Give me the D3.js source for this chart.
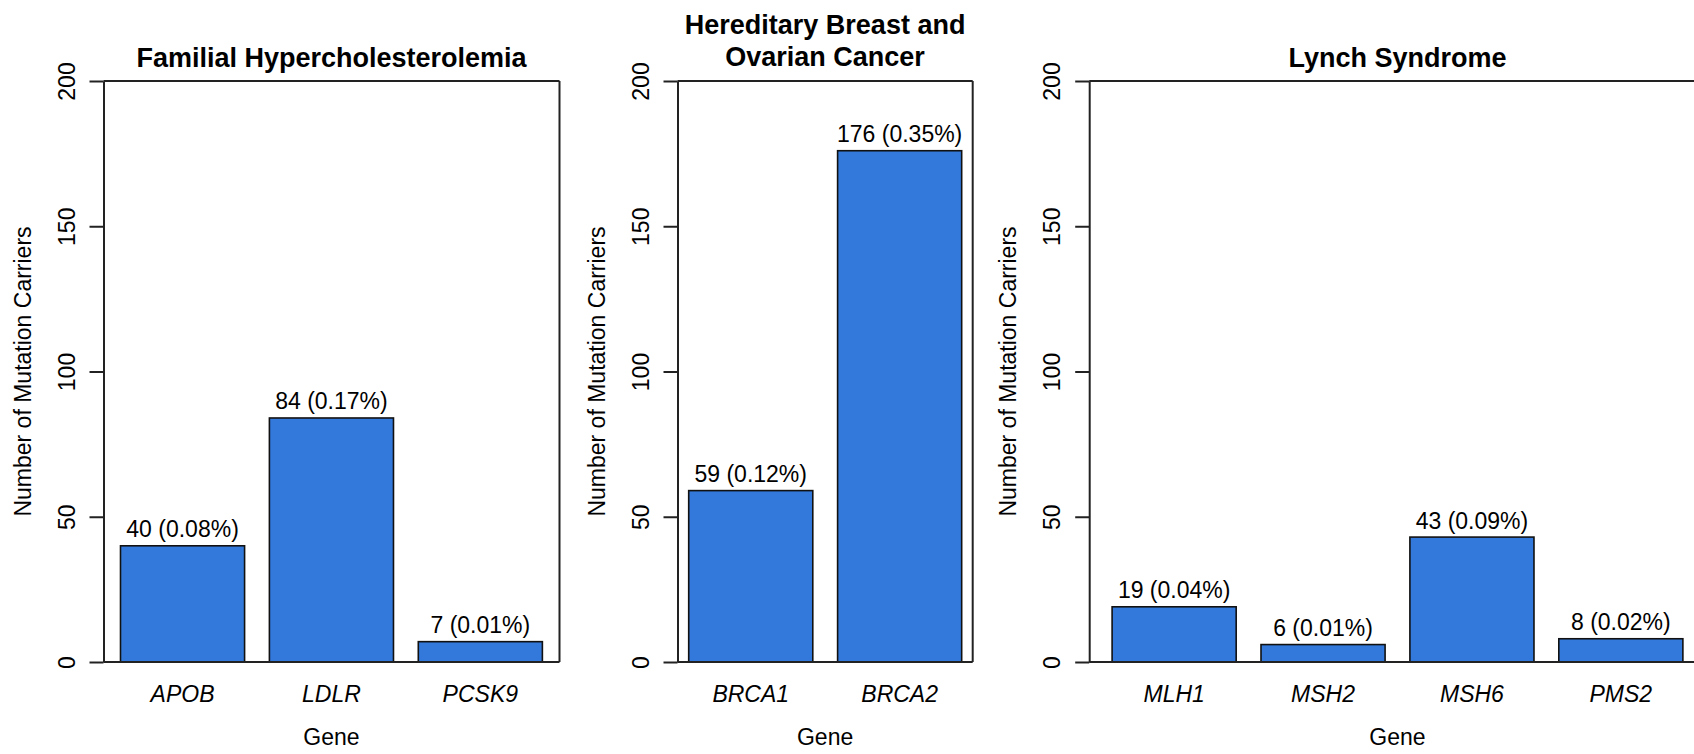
<!DOCTYPE html>
<html>
<head>
<meta charset="utf-8">
<script src="https://cdn.jsdelivr.net/npm/d3@7"></script>
<style>
  html, body { margin: 0; padding: 0; background: #fff; }
  svg { display: block; }
  text { font-family: "Liberation Sans", Arial, Helvetica, sans-serif; fill: #000; }
</style>
</head>
<body>
<svg id="chart" width="1694" height="754"></svg>
<script>
// ---------- data ----------
const yTicks = [0, 50, 100, 150, 200];
const yLabel = "Number of Mutation Carriers";
const xLabel = "Gene";

const fhTitle = ["Familial Hypercholesterolemia"];
const fhGenes = ["APOB", "LDLR", "PCSK9"];
const fhCounts = [40, 84, 7];
const fhPct = ["0.08%", "0.17%", "0.01%"];

const hbocTitle = ["Hereditary Breast and", "Ovarian Cancer"];
const hbocGenes = ["BRCA1", "BRCA2"];
const hbocCounts = [59, 176];
const hbocPct = ["0.12%", "0.35%"];

const lynchTitle = ["Lynch Syndrome"];
const lynchGenes = ["MLH1", "MSH2", "MSH6", "PMS2"];
const lynchCounts = [19, 6, 43, 8];
const lynchPct = ["0.04%", "0.01%", "0.09%", "0.02%"];

// ---------- layout ----------
const W = 1694, H = 754;
const yTop = 81, yBottom = 662;
const BAR_FILL = "#3279db";
const STEP = 148.9;            // px per bar slot (bar + gap)

const panels = [
  { title: fhTitle, genes: fhGenes, counts: fhCounts, pct: fhPct,
    firstBar: 120.5, boxLeft: 103.5, boxRight: 559.5 },
  { title: hbocTitle, genes: hbocGenes, counts: hbocCounts, pct: hbocPct,
    firstBar: 688.7, boxLeft: 677.5, boxRight: 972.7 },
  { title: lynchTitle, genes: lynchGenes, counts: lynchCounts, pct: lynchPct,
    firstBar: 1112.1, boxLeft: 1089.2, boxRight: 1705.8 }
];

const svg = d3.select("#chart");
svg.append("rect").attr("width", W).attr("height", H).attr("fill", "#fff");

const y = d3.scaleLinear().domain([0, 200]).range([yBottom, yTop]);

const FS = 23;
const FS_TITLE = 27;
const TICK_LEN = 14;
const lineCol = "#222";

panels.forEach(p => {
  const g = svg.append("g");
  const start = p.firstBar - STEP / 12;
  const x = d3.scaleBand().domain(p.genes).range([start, start + STEP * p.genes.length])
    .paddingInner(1 / 6).paddingOuter(1 / 12);
  const data = p.genes.map((gene, i) => ({ gene, count: p.counts[i], pct: p.pct[i] }));

  // bars
  g.selectAll("rect.bar").data(data).join("rect")
    .attr("class", "bar")
    .attr("x", d => x(d.gene))
    .attr("width", x.bandwidth())
    .attr("y", d => y(d.count))
    .attr("height", d => y(0) - y(d.count))
    .attr("fill", BAR_FILL)
    .attr("stroke", "#111")
    .attr("stroke-width", 1.6);

  // value labels
  g.selectAll("text.val").data(data).join("text")
    .attr("class", "val")
    .attr("text-anchor", "middle")
    .attr("font-size", FS)
    .attr("x", d => x(d.gene) + x.bandwidth() / 2)
    .attr("y", d => y(d.count) - 8.5)
    .text(d => `${d.count} (${d.pct})`);

  // box (top, bottom, right)
  g.append("line").attr("x1", p.boxLeft).attr("x2", p.boxRight)
    .attr("y1", y(200)).attr("y2", y(200)).attr("stroke", lineCol).attr("stroke-width", 2);
  g.append("line").attr("x1", p.boxLeft).attr("x2", p.boxRight)
    .attr("y1", y(0)).attr("y2", y(0)).attr("stroke", lineCol).attr("stroke-width", 2);
  g.append("line").attr("x1", p.boxRight).attr("x2", p.boxRight)
    .attr("y1", y(200)).attr("y2", y(0)).attr("stroke", lineCol).attr("stroke-width", 2);

  // y axis
  const yAxis = d3.axisLeft(y).tickValues(yTicks).tickSize(TICK_LEN).tickSizeOuter(0);
  const ya = g.append("g").attr("transform", `translate(${p.boxLeft},0)`).call(yAxis);
  ya.select(".domain").attr("stroke", lineCol).attr("stroke-width", 2);
  ya.selectAll(".tick line").attr("stroke", lineCol).attr("stroke-width", 2);
  ya.selectAll(".tick text")
    .attr("x", null).attr("dy", null)
    .attr("font-size", FS)
    .attr("font-family", "'Liberation Sans', Arial, sans-serif")
    .attr("fill", "#000")
    .attr("text-anchor", "middle")
    .attr("transform", `translate(-29,0) rotate(-90)`);

  // x axis (labels only)
  const xAxis = d3.axisBottom(x).tickSize(0);
  const xa = g.append("g").attr("transform", `translate(0,${yBottom})`).call(xAxis);
  xa.select(".domain").remove();
  xa.selectAll(".tick text")
    .attr("y", 702 - yBottom).attr("dy", null)
    .attr("font-size", FS)
    .attr("font-style", "italic")
    .attr("font-family", "'Liberation Sans', Arial, sans-serif")
    .attr("fill", "#000");

  const cx = (p.boxLeft + p.boxRight) / 2;

  // x axis title
  g.append("text").attr("text-anchor", "middle").attr("font-size", FS)
    .attr("x", cx).attr("y", 745)
    .text(xLabel);

  // y axis title
  g.append("text").attr("text-anchor", "middle").attr("font-size", FS)
    .attr("transform", `translate(${p.boxLeft - 73},${(yTop + yBottom) / 2}) rotate(-90)`)
    .text(yLabel);

  // panel title
  const baselines = p.title.length === 1 ? [67] : [33.5, 65.5];
  p.title.forEach((line, i) => {
    g.append("text").attr("text-anchor", "middle").attr("font-size", FS_TITLE)
      .attr("font-weight", "bold")
      .attr("x", cx).attr("y", baselines[i])
      .text(line);
  });
});
</script>
</body>
</html>
